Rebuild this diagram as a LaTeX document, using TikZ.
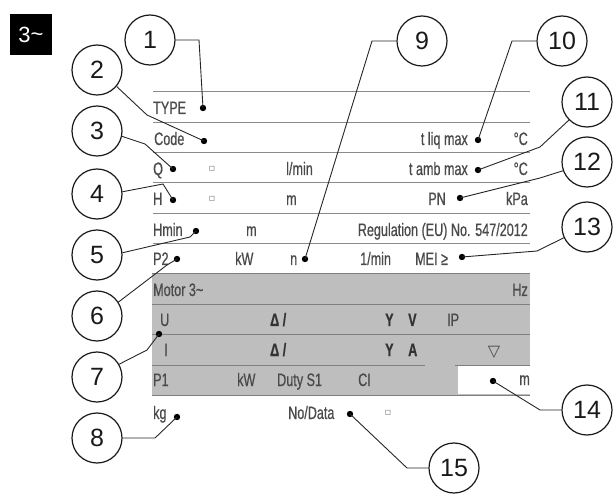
\documentclass[tikz,border=0pt]{standalone}
\usepackage{fontspec}
\setmainfont{Liberation Sans}
\newfontfamily\narrowfont[FakeStretch=0.70, FakeBold=0.6]{Liberation Sans}
\newfontfamily\dvfont{DejaVu Sans}
\definecolor{txtgray}{HTML}{4A4A4A}
\definecolor{rulegray}{HTML}{8A8A8A}
\definecolor{panelgray}{HTML}{BEBEBE}
\tikzset{
  lbl/.style={font=\narrowfont\fontsize{18}{18}\selectfont, text=txtgray, inner sep=0pt, anchor=base west},
  lblr/.style={lbl, anchor=base east},
  bld/.style={font=\narrowfont\bfseries\fontsize{18}{18}\selectfont, text=black!80},
  sq/.style={font=\dvfont\fontsize{10}{10}\selectfont, text=txtgray!70, inner sep=0pt, anchor=center},
  num/.style={circle, draw=black!90, line width=1.2pt, minimum size=50pt, inner sep=0pt, font=\fontsize{25}{25}\selectfont, text=black!90},
  conn/.style={draw=black!85, line width=0.9pt},
  tline/.style={draw=rulegray, line width=1pt},
  pline/.style={draw=black!50, line width=1pt},
  dotc/.style={fill=black},
}
\begin{document}
\begin{tikzpicture}[x=1pt, y=-1pt]
\useasboundingbox (0,0) rectangle (616,494);
% 3~ badge
\node[fill=black, text=white, minimum width=42pt, minimum height=41pt, inner sep=0pt, font=\fontsize{22}{22}\selectfont] (badge) at (31,34.5) {3\raisebox{1pt}{\char`\~}};
% panel
\fill[panelgray] (152,274) rectangle (530,395);
\fill[white] (458,366) rectangle (530,394);
% lines
\foreach \yy in {92,123,153,183,214,244} { \draw[tline] (153,\yy) -- (530,\yy); }
\draw[pline] (152,274) -- (530,274);
\draw[pline] (152,305) -- (530,305);
\draw[pline] (152,335) -- (530,335);
\draw[pline] (152,366) -- (425,366);
\draw[pline] (455,366) -- (530,366);
\draw[pline] (152,395) -- (530,395);
% texts
\node[lbl] (tType) at (153,114) {TYPE};
\node[lbl] (tCode) at (154,145) {Code};
\node[lblr] (tLiq) at (468,145) {t liq max};
\node[lblr] (tC1) at (528,145) {°C};
\node[lbl] (tQ) at (153,175) {Q};
\node[sq] (sq1) at (212,169) {▫};
\node[lbl] (tLmin) at (286,175) {l/min};
\node[lblr] (tAmb) at (468,175) {t amb max};
\node[lblr] (tC2) at (528,175) {°C};
\node[lbl] (tH) at (153,205) {H};
\node[sq] (sq2) at (212,199) {▫};
\node[lbl] (tM1) at (286,205) {m};
\node[lblr] (tPN) at (446,205) {PN};
\node[lblr] (tkPa) at (528,205) {kPa};
\node[lbl] (tHmin) at (153,236) {Hmin};
\node[lbl] (tM2) at (246,236) {m};
\node[lblr] (tReg) at (528,236) {Regulation (EU) No. 547/2012};
\node[lbl] (tP2) at (153,265) {P2};
\node[lbl] (tkW1) at (235,265) {kW};
\node[lbl] (tn) at (290,265) {n};
\node[lbl] (trpm) at (360,265) {1/min};
\node[lbl] (tMEI) at (415,265) {MEI ≥};
\node[lbl] (tMotor) at (153,296) {Motor 3\char`\~};
\node[lblr] (tHz) at (528,296) {Hz};
\node[lbl] (tU) at (160,326) {U};
\node[lbl, bld] (tD1) at (270,326) {Δ /};
\node[lbl, bld] (tY1) at (385,326) {Y};
\node[lbl, bld] (tV) at (408,326) {V};
\node[lbl] (tIP) at (447,326) {IP};
\node[lbl] (tI) at (164,356) {I};
\node[lbl, bld] (tD2) at (270,356) {Δ /};
\node[lbl, bld] (tY2) at (385,356) {Y};
\node[lbl, bld] (tA) at (408,356) {A};
\node[font=\dvfont\fontsize{16}{16}\selectfont, text=txtgray, inner sep=0pt] (tTri) at (494,352) {▽};
\node[lbl] (tP1) at (153,386) {P1};
\node[lbl] (tkW2) at (237,386) {kW};
\node[lbl] (tDuty) at (277,386) {Duty S1};
\node[lbl] (tCI) at (358,386) {CI};
\node[lblr] (tM3) at (530,385) {m};
\node[lbl] (tkg) at (153,419) {kg};
\node[lbl] (tNo) at (288,419) {No/Data};
\node[sq] (sq3) at (388,413) {▫};
% dots
\coordinate (d1) at (203,108);
\coordinate (d2) at (204,141);
\coordinate (d3) at (173,169);
\coordinate (d4) at (173,200);
\coordinate (d5) at (196,231);
\coordinate (d6) at (177,259);
\coordinate (d7) at (159,334);
\coordinate (d8) at (177,417);
\coordinate (d9) at (305,259);
\coordinate (d10) at (478,140);
\coordinate (d11) at (478,170);
\coordinate (d12) at (460,198);
\coordinate (d13) at (462,257);
\coordinate (d14) at (493,381);
\coordinate (d15) at (350,414);
\foreach \d in {d1,d2,d3,d4,d5,d6,d7,d8,d9,d10,d11,d12,d13,d14,d15} { \fill[dotc] (\d) circle (3.2pt); }
% circles
\node[num] (c1) at (150,40) {1};
\node[num] (c2) at (97,70) {2};
\node[num] (c3) at (97,131) {3};
\node[num] (c4) at (97,194) {4};
\node[num] (c5) at (97,255) {5};
\node[num] (c6) at (97,316) {6};
\node[num] (c7) at (97,377) {7};
\node[num] (c8) at (97,438) {8};
\node[num] (c9) at (422,41) {9};
\node[num] (c10) at (562,41) {10};
\node[num] (c11) at (587,102) {11};
\node[num] (c12) at (587,162) {12};
\node[num] (c13) at (587,227) {13};
\node[num] (c14) at (587,410) {14};
\node[num] (c15) at (454,468) {15};
% connectors
\draw[conn] (c1.east) -- (199,40) -- (d1);
\draw[conn] (c2.-40) -- (147,115) -- (d2);
\draw[conn] (c3.-12) -- (145,144) -- (d3);
\draw[conn] (c4.5) -- (163,184) -- (d4);
\draw[conn] (c5.5) -- (190,237) -- (d5);
\draw[conn] (c6.33) -- (167,265) -- (d6);
\draw[conn] (c7.30) -- (147,350) -- (d7);
\draw[conn] (c8.east) -- (155,438) -- (d8);
\draw[conn] (c9.west) -- (372,41) -- (d9);
\draw[conn] (c10.west) -- (512,41) -- (d10);
\draw[conn] (c11.225) -- (540,147) -- (d11);
\draw[conn] (c12.200) -- (540,178) -- (d12);
\draw[conn] (c13.205) -- (537,251) -- (d13);
\draw[conn] (c14.west) -- (540,410) -- (d14);
\draw[conn] (c15.west) -- (407,468) -- (d15);
\end{tikzpicture}
\end{document}
